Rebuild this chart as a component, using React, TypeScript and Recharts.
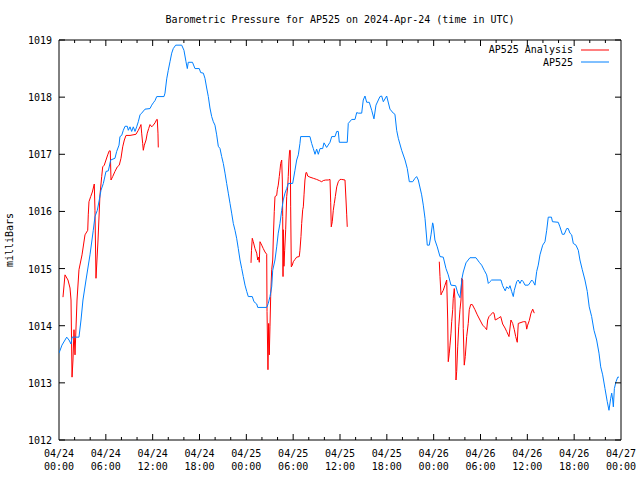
import React from "react";
import { LineChart, Line, XAxis, YAxis, ReferenceArea } from "recharts";

// hours since 2024-04-24 00:00 UTC, pressure in mb
const ap525: [number, number][] = [
  [0, 1013.52], [0.38, 1013.66], [0.99, 1013.8], [1.28, 1013.75], [1.54, 1013.68],
  [1.67, 1013.8], [2.56, 1013.8], [2.82, 1014.1], [3.07, 1014.45], [3.46, 1014.8],
  [3.97, 1015.24], [4.39, 1015.67], [4.61, 1015.91], [4.91, 1016.02], [5.16, 1016.2],
  [5.38, 1016.37], [5.68, 1016.49], [6.02, 1016.7], [6.32, 1016.71], [6.62, 1016.9],
  [7.17, 1016.93], [7.39, 1017.05], [7.69, 1017.16], [7.81, 1017.31], [8.03, 1017.33],
  [8.24, 1017.42], [8.46, 1017.49], [8.75, 1017.49], [8.88, 1017.42], [9.1, 1017.48],
  [9.31, 1017.4], [9.52, 1017.48], [9.74, 1017.4], [9.95, 1017.48], [10.16, 1017.57],
  [10.38, 1017.69], [10.59, 1017.72], [11.02, 1017.79], [11.66, 1017.8], [11.88, 1017.86],
  [12.08, 1017.9], [12.3, 1017.94], [12.52, 1018.01], [13.45, 1018.01], [13.58, 1018.07],
  [13.8, 1018.32], [14.0, 1018.47], [14.22, 1018.62], [14.44, 1018.77], [14.64, 1018.85],
  [14.95, 1018.91], [15.72, 1018.91], [16.01, 1018.82], [16.27, 1018.62], [16.44, 1018.5],
  [16.56, 1018.61], [17.1, 1018.61], [17.42, 1018.5], [17.97, 1018.5], [18.15, 1018.43],
  [18.49, 1018.42], [18.7, 1018.33], [18.92, 1018.16], [19.13, 1018.01], [19.34, 1017.81],
  [19.56, 1017.66], [19.77, 1017.57], [19.98, 1017.51], [20.2, 1017.34], [20.41, 1017.14],
  [20.63, 1017.1], [20.84, 1016.96], [21.05, 1016.84], [21.27, 1016.67], [21.48, 1016.49],
  [21.69, 1016.32], [21.91, 1016.14], [22.12, 1015.97], [22.33, 1015.79], [22.55, 1015.67],
  [22.76, 1015.53], [22.97, 1015.35], [23.19, 1015.15], [23.41, 1015.0], [23.61, 1014.86],
  [23.83, 1014.71], [24.05, 1014.6], [24.25, 1014.51], [24.76, 1014.51], [24.98, 1014.42],
  [25.33, 1014.38], [25.46, 1014.32], [26.61, 1014.32], [26.81, 1014.39], [27.03, 1014.51],
  [27.25, 1014.68], [27.38, 1014.97], [27.67, 1015.15], [27.89, 1015.38], [28.09, 1015.62],
  [28.31, 1015.79], [28.53, 1016.02], [28.73, 1016.2], [28.95, 1016.32], [29.17, 1016.4],
  [29.37, 1016.49], [29.94, 1016.49], [30.23, 1016.72], [30.45, 1016.9], [30.66, 1016.99],
  [30.87, 1017.19], [30.96, 1017.31], [32.15, 1017.31], [32.37, 1017.19], [32.58, 1017.1],
  [32.8, 1017.0], [33.01, 1017.09], [33.22, 1017.0], [33.44, 1017.1], [33.78, 1017.1],
  [33.95, 1017.2], [34.29, 1017.12], [34.72, 1017.21], [34.94, 1017.31], [35.36, 1017.31],
  [35.58, 1017.4], [35.78, 1017.4], [35.91, 1017.21], [36.93, 1017.21], [37.06, 1017.54],
  [37.5, 1017.61], [37.92, 1017.61], [38.14, 1017.73], [38.34, 1017.72], [38.78, 1017.72],
  [38.98, 1017.95], [39.2, 1018.02], [39.42, 1017.91], [39.75, 1017.91], [40.06, 1017.77],
  [40.35, 1017.62], [40.61, 1017.86], [41.12, 1018.01], [41.34, 1018.02], [41.55, 1017.92],
  [41.98, 1018.02], [42.4, 1017.79], [42.83, 1017.72], [43.04, 1017.7], [43.26, 1017.42],
  [43.47, 1017.28], [43.9, 1017.07], [44.33, 1016.9], [44.62, 1016.75], [44.88, 1016.52],
  [45.31, 1016.52], [45.61, 1016.58], [45.82, 1016.61], [46.03, 1016.55], [46.46, 1016.29],
  [46.67, 1016.11], [46.89, 1015.88], [47.18, 1015.41], [47.44, 1015.41], [47.66, 1015.59],
  [47.87, 1015.8], [47.95, 1015.76], [48.16, 1015.5], [48.46, 1015.38], [48.81, 1015.21],
  [49.23, 1015.2], [49.58, 1015.0], [49.87, 1014.89], [50.22, 1014.71], [50.82, 1014.7],
  [51.08, 1014.57], [51.37, 1014.49], [51.63, 1014.83], [51.79, 1014.94], [52.14, 1015.1],
  [52.65, 1015.19], [53.42, 1015.19], [53.84, 1015.11], [54.15, 1015.06], [54.48, 1014.97],
  [54.79, 1014.89], [55.0, 1014.74], [55.21, 1014.77], [55.43, 1014.8], [56.62, 1014.8],
  [56.84, 1014.7], [57.01, 1014.65], [57.17, 1014.61], [57.35, 1014.68], [57.61, 1014.65],
  [57.78, 1014.7], [57.99, 1014.6], [58.2, 1014.51], [58.33, 1014.62], [58.64, 1014.77],
  [58.84, 1014.8], [59.06, 1014.74], [59.27, 1014.8], [59.48, 1014.77], [59.7, 1014.71],
  [60.12, 1014.71], [60.34, 1014.75], [60.56, 1014.8], [60.76, 1014.77], [60.98, 1014.71],
  [61.2, 1014.95], [61.4, 1015.06], [61.62, 1015.24], [61.97, 1015.41], [62.26, 1015.47],
  [62.48, 1015.67], [62.68, 1015.9], [63.09, 1015.9], [63.22, 1015.82], [63.96, 1015.81],
  [64.18, 1015.73], [64.48, 1015.6], [64.73, 1015.6], [65.04, 1015.7], [65.24, 1015.7],
  [65.46, 1015.62], [65.68, 1015.59], [65.89, 1015.44], [66.23, 1015.41], [66.53, 1015.32],
  [66.74, 1015.15], [67.04, 1014.98], [67.38, 1014.8], [67.68, 1014.6], [67.93, 1014.33],
  [68.24, 1014.16], [68.54, 1013.92], [68.88, 1013.75], [69.18, 1013.52], [69.4, 1013.28],
  [69.65, 1013.14], [69.95, 1012.9], [70.24, 1012.67], [70.46, 1012.52], [70.68, 1012.73],
  [70.81, 1012.82], [70.94, 1012.7], [71.02, 1012.58], [71.15, 1012.9], [71.36, 1013.02],
  [71.58, 1013.1], [71.74, 1013.1],
];

const analysisDay1: [number, number][] = [
  [0.51, 1014.5], [0.77, 1014.89], [1.15, 1014.8], [1.41, 1014.66], [1.54, 1014.45],
  [1.67, 1013.1], [1.79, 1013.4], [1.92, 1013.93], [2.05, 1013.49], [2.31, 1014.45],
  [2.56, 1014.98], [2.95, 1015.24], [3.33, 1015.59], [3.68, 1015.67], [3.75, 1015.94],
  [3.84, 1016.17], [4.06, 1016.26], [4.27, 1016.34], [4.52, 1016.48], [4.61, 1016.02],
  [4.74, 1014.83], [5.0, 1015.5], [5.25, 1016.29], [5.47, 1016.61], [5.6, 1016.78],
  [5.8, 1016.81], [6.02, 1016.9], [6.24, 1016.99], [6.44, 1017.06], [6.57, 1017.06],
  [6.66, 1016.55], [6.88, 1016.61], [7.17, 1016.7], [7.47, 1016.78], [7.72, 1016.81],
  [7.94, 1016.93], [8.16, 1017.13], [8.37, 1017.25], [8.58, 1017.33], [9.1, 1017.33],
  [9.86, 1017.35], [10.16, 1017.42], [10.38, 1017.48], [10.5, 1017.52], [10.59, 1017.37],
  [10.72, 1017.19], [10.8, 1017.07], [10.93, 1017.16], [11.15, 1017.25], [11.31, 1017.37],
  [11.49, 1017.45], [11.66, 1017.52], [11.88, 1017.48], [12.08, 1017.51], [12.3, 1017.55],
  [12.52, 1017.61], [12.59, 1017.61], [12.68, 1017.37], [12.72, 1017.12],
];

const analysisDay2: [number, number][] = [
  [24.6, 1015.1], [24.66, 1015.32], [24.76, 1015.53], [24.89, 1015.47], [25.11, 1015.35],
  [25.33, 1015.27], [25.46, 1015.15], [25.58, 1015.2], [25.66, 1015.11], [25.75, 1015.47],
  [25.97, 1015.41], [26.17, 1015.35], [26.39, 1015.29], [26.61, 1015.25], [26.65, 1014.25],
  [26.77, 1013.23], [26.86, 1014.04], [26.94, 1013.49], [27.03, 1013.98], [27.12, 1014.51],
  [27.25, 1014.98], [27.38, 1015.15], [27.45, 1015.5], [27.58, 1016.0], [27.67, 1016.26],
  [27.89, 1016.28], [27.97, 1016.38], [28.09, 1016.46], [28.22, 1016.61], [28.31, 1016.72],
  [28.4, 1016.84], [28.53, 1016.9], [28.61, 1016.55], [28.66, 1015.91], [28.7, 1014.86],
  [28.73, 1015.68], [28.82, 1015.04], [28.91, 1015.32], [29.04, 1015.68], [29.17, 1016.26],
  [29.3, 1016.43], [29.37, 1016.61], [29.46, 1016.9], [29.55, 1017.07], [29.63, 1017.07],
  [29.68, 1016.08], [29.76, 1015.03], [29.89, 1015.06], [30.02, 1015.12], [30.23, 1015.16],
  [30.45, 1015.2], [30.78, 1015.21], [30.87, 1015.32], [31.0, 1015.56], [31.09, 1015.79],
  [31.22, 1016.03], [31.3, 1016.08], [31.39, 1016.29], [31.51, 1016.55], [31.64, 1016.68],
  [31.73, 1016.68], [31.86, 1016.62], [32.15, 1016.6], [32.58, 1016.58], [33.01, 1016.56],
  [33.35, 1016.54], [33.65, 1016.52], [33.86, 1016.54], [34.17, 1016.55], [34.5, 1016.55],
  [34.72, 1016.56], [34.81, 1016.15], [34.88, 1015.73], [35.01, 1015.82], [35.14, 1016.02],
  [35.27, 1016.14], [35.4, 1016.26], [35.58, 1016.43], [35.78, 1016.52], [36.0, 1016.56],
  [36.22, 1016.56], [36.64, 1016.55], [36.77, 1016.2], [36.86, 1015.94], [36.93, 1015.73],
];

const analysisDay3: [number, number][] = [
  [48.72, 1015.12], [48.81, 1014.86], [48.94, 1014.54], [49.03, 1014.57], [49.23, 1014.62],
  [49.45, 1014.71], [49.67, 1014.8], [49.8, 1014.1], [49.87, 1013.37], [50.0, 1013.52],
  [50.09, 1013.66], [50.22, 1013.87], [50.31, 1014.07], [50.44, 1014.28], [50.51, 1014.48],
  [50.64, 1014.65], [50.73, 1014.45], [50.86, 1013.05], [50.95, 1013.2], [51.08, 1013.63],
  [51.21, 1013.98], [51.37, 1014.28], [51.5, 1014.45], [51.59, 1014.83], [51.72, 1014.8],
  [51.79, 1013.95], [51.92, 1013.31], [52.05, 1013.46], [52.23, 1013.81], [52.43, 1014.04],
  [52.56, 1014.28], [52.74, 1014.37], [52.95, 1014.37], [53.29, 1014.28], [53.59, 1014.19],
  [53.93, 1014.1], [54.28, 1014.01], [54.57, 1013.97], [54.79, 1013.93], [54.92, 1014.1],
  [55.09, 1014.16], [55.31, 1014.19], [55.56, 1014.23], [55.73, 1014.22], [55.89, 1014.1],
  [56.28, 1014.13], [56.59, 1014.16], [56.84, 1014.03], [57.14, 1013.96], [57.35, 1013.9],
  [57.65, 1013.81], [57.9, 1014.1], [58.12, 1014.04], [58.33, 1013.93], [58.51, 1013.81],
  [58.71, 1013.71], [58.84, 1014.04], [59.06, 1014.05], [59.48, 1014.07], [59.79, 1014.07],
  [59.92, 1013.94], [60.04, 1014.01], [60.25, 1014.09], [60.47, 1014.22], [60.69, 1014.29],
  [60.89, 1014.22],
];

const xTicks = [0, 2, 4, 6, 8, 10, 12, 14, 16, 18, 20, 22, 24, 26, 28, 30, 32, 34, 36,
  38, 40, 42, 44, 46, 48, 50, 52, 54, 56, 58, 60, 62, 64, 66, 68, 70, 72];
const xTickDates = ["04/24", "04/24", "04/24", "04/24", "04/25", "04/25", "04/25",
  "04/25", "04/26", "04/26", "04/26", "04/26", "04/27"];
const xTickTimes = ["00:00", "06:00", "12:00", "18:00", "00:00", "06:00", "12:00",
  "18:00", "00:00", "06:00", "12:00", "18:00", "00:00"];
const yTicks = [1012, 1013, 1014, 1015, 1016, 1017, 1018, 1019];

const FONT = "'DejaVu Sans Mono', 'Liberation Mono', monospace";
const PLOT_LEFT = 59;
const PLOT_RIGHT = 621;
const PLOT_TOP = 40;
const PLOT_BOTTOM = 440;

const toRows = (pts: [number, number][]) => pts.map(([h, p]) => ({ h, p }));

const XTick = ({ x, payload }: any) => {
  const h = payload.value;
  if (h === 0 || h === 72) {
    const i = h / 6;
    return (
      <g>
        <text x={x} y={457} textAnchor="middle" fontSize={10} fontFamily={FONT} fill="#000">
          {xTickDates[i]}
        </text>
        <text x={x} y={470} textAnchor="middle" fontSize={10} fontFamily={FONT} fill="#000">
          {xTickTimes[i]}
        </text>
      </g>
    );
  }
  const major = h % 6 === 0;
  const len = major ? 6 : 3;
  return (
    <g>
      <line x1={x} y1={PLOT_BOTTOM} x2={x} y2={PLOT_BOTTOM - len} stroke="#000" />
      <line x1={x} y1={PLOT_TOP} x2={x} y2={PLOT_TOP + len} stroke="#000" />
      {major && (
        <>
          <text x={x} y={457} textAnchor="middle" fontSize={10} fontFamily={FONT} fill="#000">
            {xTickDates[h / 6]}
          </text>
          <text x={x} y={470} textAnchor="middle" fontSize={10} fontFamily={FONT} fill="#000">
            {xTickTimes[h / 6]}
          </text>
        </>
      )}
    </g>
  );
};

const YTick = ({ y, payload }: any) => (
  <g>
    <line x1={PLOT_LEFT} y1={y} x2={PLOT_LEFT + 6} y2={y} stroke="#000" />
    <line x1={PLOT_RIGHT} y1={y} x2={PLOT_RIGHT - 6} y2={y} stroke="#000" />
    <text x={52} y={y + 4} textAnchor="end" fontSize={10} fontFamily={FONT} fill="#000">
      {payload.value}
    </text>
  </g>
);

export default function App() {
  return (
    <div style={{ position: "absolute", left: 0, top: 0, width: 640, height: 480, background: "#fff" }}>
      <LineChart width={640} height={480} margin={{ top: 40, right: 19, bottom: 0, left: 0 }}>
        <XAxis
          dataKey="h"
          type="number"
          domain={[0, 72]}
          ticks={xTicks}
          interval={0}
          height={40}
          axisLine={false}
          tickLine={false}
          tickSize={0}
          tickMargin={0}
          tick={<XTick />}
          allowDataOverflow
        />
        <YAxis
          type="number"
          domain={[1012, 1019]}
          ticks={yTicks}
          interval={0}
          width={59}
          axisLine={false}
          tickLine={false}
          tickSize={0}
          tickMargin={0}
          tick={<YTick />}
          allowDataOverflow
        />
        <ReferenceArea x1={0} x2={72} y1={1012} y2={1019} fill="none" stroke="#000" strokeWidth={1} fillOpacity={0} />
        {[analysisDay1, analysisDay2, analysisDay3].map((seg, i) => (
          <Line
            key={i}
            data={toRows(seg)}
            dataKey="p"
            type="linear"
            stroke="#ff0000"
            strokeWidth={1}
            dot={false}
            isAnimationActive={false}
          />
        ))}
        <Line
          data={toRows(ap525)}
          dataKey="p"
          type="linear"
          stroke="#0080ff"
          strokeWidth={1}
          dot={false}
          isAnimationActive={false}
        />
      </LineChart>
      <div
        style={{
          position: "absolute", left: 0, top: 14, width: 680, textAlign: "center",
          fontFamily: FONT, fontSize: 10, lineHeight: "12px",
        }}
      >
        Barometric Pressure for AP525 on 2024-Apr-24 (time in UTC)
      </div>
      <div
        style={{
          position: "absolute", left: 10, top: 240, fontFamily: FONT, fontSize: 10,
          lineHeight: "12px", whiteSpace: "nowrap",
          transform: "translate(-50%, -50%) rotate(-90deg)",
        }}
      >
        milliBars
      </div>
      <svg width={140} height={36} style={{ position: "absolute", left: 480, top: 40 }}>
        <text x={93} y={12.5} textAnchor="end" fontSize={10} fontFamily={FONT}>AP525 Analysis</text>
        <line x1={101} y1={10} x2={129} y2={10} stroke="#ff0000" />
        <text x={93} y={25.5} textAnchor="end" fontSize={10} fontFamily={FONT}>AP525</text>
        <line x1={101} y1={22} x2={129} y2={22} stroke="#0080ff" />
      </svg>
    </div>
  );
}
